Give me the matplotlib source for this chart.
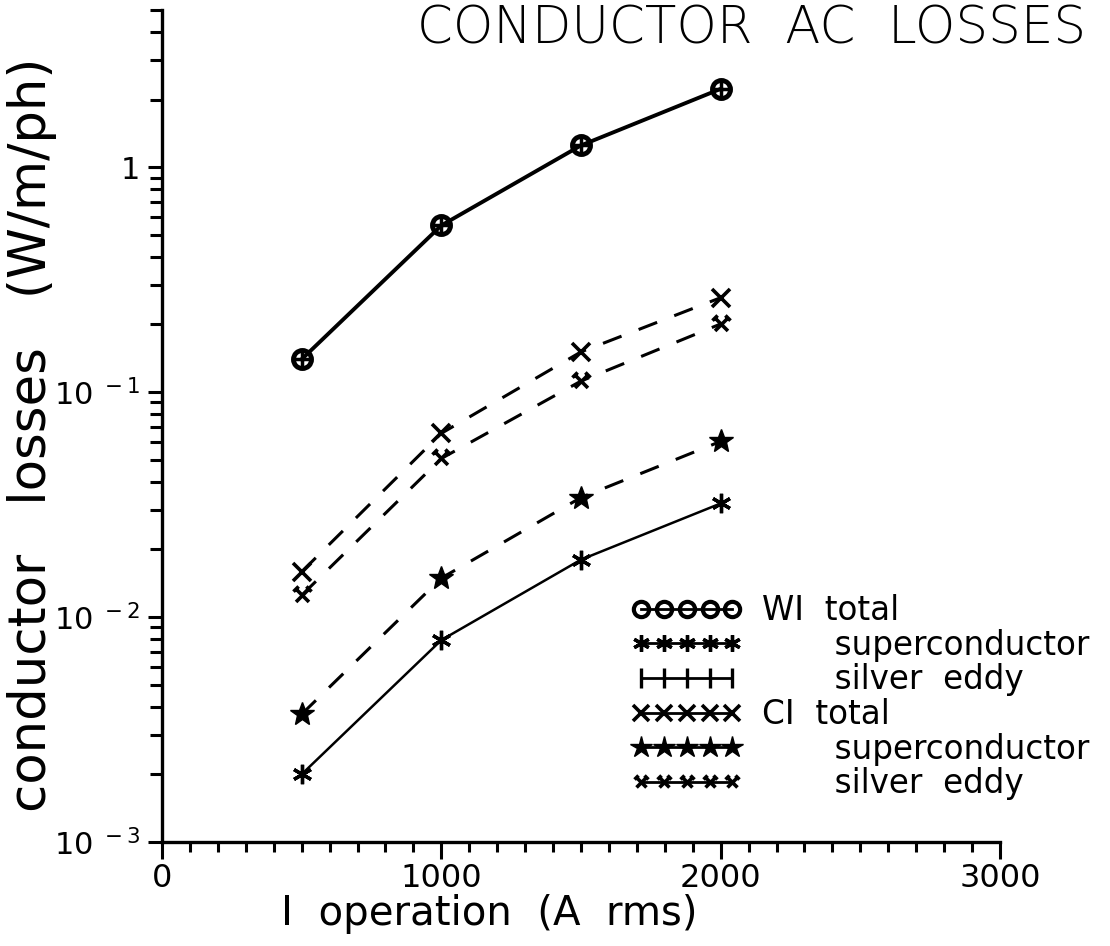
import numpy as np
import matplotlib.pyplot as plt
from matplotlib.path import Path
from matplotlib.lines import Line2D
from matplotlib.ticker import FixedLocator, LogLocator, NullFormatter, MultipleLocator, FixedFormatter

plt.rcParams['font.family'] = ['DejaVu Sans']
plt.rcParams['mathtext.fontset'] = 'dejavusans'

# data
current = [500, 1000, 1500, 2000]
wi_total = [0.140, 0.551, 1.25, 2.23]
wi_super = [0.0020, 0.0079, 0.0180, 0.0320]
wi_eddy = [0.140, 0.551, 1.25, 2.23]
ci_total = [0.0159, 0.0656, 0.151, 0.263]
ci_super = [0.0037, 0.0149, 0.0340, 0.0604]
ci_eddy = [0.0125, 0.0507, 0.112, 0.201]

y_ticks = [1e-3, 1e-2, 1e-1, 1]
y_ticklabels = [r'$10^{\ -3}$', r'$10^{\ -2}$', r'$10^{\ -1}$', '1']
x_ticks = [0, 1000, 2000, 3000]
x_ticklabels = ['0', '1000', '2000', '3000']
labels = ['WI  total', '       superconductor', '       silver  eddy',
          'CI  total', '       superconductor', '       silver  eddy']

# odd "x with a hat" symbol for CI silver eddy
verts = [(-1, -1), (1, 1), (-1, 1), (1, -1),
         (-1.4, 0.6), (-0.6, 1.4), (0.6, 1.4), (1.4, 0.6)]
codes = [Path.MOVETO, Path.LINETO] * 4
hat_x = Path(verts, codes)
aster = (6, 2, 0)

fig = plt.figure(figsize=(11.1, 9.46), dpi=100)
ax = fig.add_axes([162/1110, 1-842/946, 838/1110, 832/946])

dash = (0, (6.5, 6))
ax.plot(current, wi_total, color='k', lw=2.8, marker='o', ms=13, mfc='none', mew=3.5)
ax.plot(current, wi_eddy, color='k', lw=0, marker='+', ms=11, mew=2.5)
ax.plot(current, wi_super, color='k', lw=1.8, marker=aster, ms=14, mew=2.4)
ax.plot(current, ci_total, color='k', lw=2.2, ls=dash, marker='x', ms=13, mew=2.6)
ax.plot(current, ci_super, color='k', lw=2.2, ls=dash, marker='*', ms=18)
ax.plot(current, ci_eddy, color='k', lw=2.2, ls=dash, marker=hat_x, ms=13, mew=2.6)

ax.set_yscale('log')
ax.set_ylim(1e-3, 5)
ax.set_xlim(0, 3000)

ax.yaxis.set_major_locator(FixedLocator(y_ticks))
ax.yaxis.set_major_formatter(FixedFormatter(y_ticklabels))
ax.yaxis.set_minor_locator(LogLocator(base=10, subs=np.arange(2, 10)))
ax.yaxis.set_minor_formatter(NullFormatter())
ax.xaxis.set_major_locator(FixedLocator(x_ticks))
ax.xaxis.set_major_formatter(FixedFormatter(x_ticklabels))
ax.xaxis.set_minor_locator(MultipleLocator(100))

for s in ['top', 'right']:
    ax.spines[s].set_visible(False)
for s in ['left', 'bottom']:
    ax.spines[s].set_linewidth(2.4)

ax.tick_params(axis='y', which='major', direction='out', length=10, width=2.2, pad=6, labelsize=22)
ax.tick_params(axis='y', which='minor', direction='out', length=9, width=2.2)
ax.tick_params(axis='x', which='major', direction='out', length=12, width=2.2, pad=3,
               labelsize=23)
ax.tick_params(axis='x', which='minor', direction='out', length=7, width=2.2)

ax.set_xlabel('I  operation  (A  rms)', fontsize=29)
ax.xaxis.set_label_coords(0.39, -0.063)
ax.set_ylabel('conductor   losses   (W/m/ph)', fontsize=37)
ax.yaxis.set_label_coords(-0.125, 0.49)

fig.text(417/1110, 1 - 4/946, 'CONDUCTOR  AC  LOSSES', fontsize=37, fontweight='light',
         ha='left', va='top')

handles = [
    Line2D([], [], color='k', lw=2, marker='o', ms=11, mfc='none', mew=3),
    Line2D([], [], color='k', lw=2, marker=aster, ms=12, mew=2.4),
    Line2D([], [], color='k', lw=2, marker='|', ms=14, mew=2.4),
    Line2D([], [], color='k', lw=2, marker='x', ms=11, mew=2.6),
    Line2D([], [], color='k', lw=2, marker='*', ms=16),
    Line2D([], [], color='k', lw=2, marker=hat_x, ms=10, mew=2.6),
]
ax.legend(handles, labels, loc='upper left', bbox_to_anchor=(0.56, 0.298),
          frameon=False, numpoints=5, handlelength=3.4, handletextpad=0.6,
          labelspacing=0.05, borderpad=0, borderaxespad=0, fontsize=23.5)

fig.savefig('out.png', dpi=100)
